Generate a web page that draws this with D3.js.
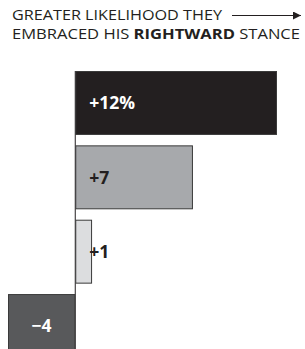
<!DOCTYPE html>
<html lang="en">
<head>
<meta charset="UTF-8">
<script src="https://d3js.org/d3.v7.min.js"></script>
<style>
  body { margin: 0; background: #fff; }
  text { font-family: "Open Sans", "Liberation Sans", sans-serif; }
</style>
</head>
<body>
<div id="chart"></div>
<script>
const groups = ["a", "b", "c", "d"];
const values = [12, 7, 1, -4];
const labels = ["+12%", "+7", "+1", "\u22124"];
const fills = ["#231f20", "#a7a9ac", "#dcdddf", "#58595b"];
const labelColors = ["#fff", "#231f20", "#231f20", "#fff"];

const width = 305, height = 349;

const svg = d3.select("#chart").append("svg")
    .attr("width", width)
    .attr("height", height);

// header
const head = svg.append("g").attr("fill", "#231f20").style("font-size", "14.8px");
head.append("text").attr("x", 12).attr("y", 20)
    .attr("textLength", 210).attr("lengthAdjust", "spacingAndGlyphs")
    .text("GREATER LIKELIHOOD THEY");
const l2 = head.append("text").attr("x", 12).attr("y", 39)
    .attr("textLength", 288).attr("lengthAdjust", "spacingAndGlyphs");
l2.append("tspan").text("EMBRACED HIS ");
l2.append("tspan").attr("font-weight", "bold").text("RIGHTWARD");
l2.append("tspan").text(" STANCE");

svg.append("defs").append("marker")
    .attr("id", "arr").attr("viewBox", "0 0 10 10")
    .attr("refX", 10).attr("refY", 5)
    .attr("markerWidth", 8).attr("markerHeight", 8)
    .attr("markerUnits", "userSpaceOnUse")
    .attr("orient", "auto")
  .append("path").attr("d", "M0,0L10,5L0,10Z").attr("fill", "#231f20");
svg.append("line")
    .attr("x1", 232).attr("x2", 301).attr("y1", 15.5).attr("y2", 15.5)
    .attr("stroke", "#231f20").attr("stroke-width", 1.2)
    .attr("marker-end", "url(#arr)");

// bars
const x = d3.scaleLinear().domain([-4, 12]).range([8, 277]);
const y = d3.scaleBand().domain(groups).range([71, 358]).paddingInner(0.14).paddingOuter(0);

svg.append("line")
    .attr("x1", x(0)).attr("x2", x(0))
    .attr("y1", 71).attr("y2", height)
    .attr("stroke", "#231f20").attr("stroke-width", 1);

svg.selectAll("rect.bar")
  .data(values)
  .join("rect")
    .attr("class", "bar")
    .attr("x", d => x(Math.min(0, d)) + 0.5)
    .attr("y", (d, i) => y(groups[i]) + 0.5)
    .attr("width", d => Math.abs(x(d) - x(0)) - 1)
    .attr("height", y.bandwidth() - 1)
    .attr("fill", (d, i) => fills[i])
    .attr("stroke", "#3a3a3a")
    .attr("stroke-width", 1);

svg.selectAll("text.lbl")
  .data(values)
  .join("text")
    .attr("class", "lbl")
    .attr("x", d => d >= 0 ? x(0) + 14 : (x(d) + x(0)) / 2)
    .attr("y", (d, i) => y(groups[i]) + y.bandwidth() / 2)
    .attr("dy", "0.36em")
    .attr("text-anchor", d => d >= 0 ? "start" : "middle")
    .attr("fill", (d, i) => labelColors[i])
    .attr("font-weight", "bold")
    .style("font-size", "17.5px")
    .text((d, i) => labels[i]);
</script>
</body>
</html>
